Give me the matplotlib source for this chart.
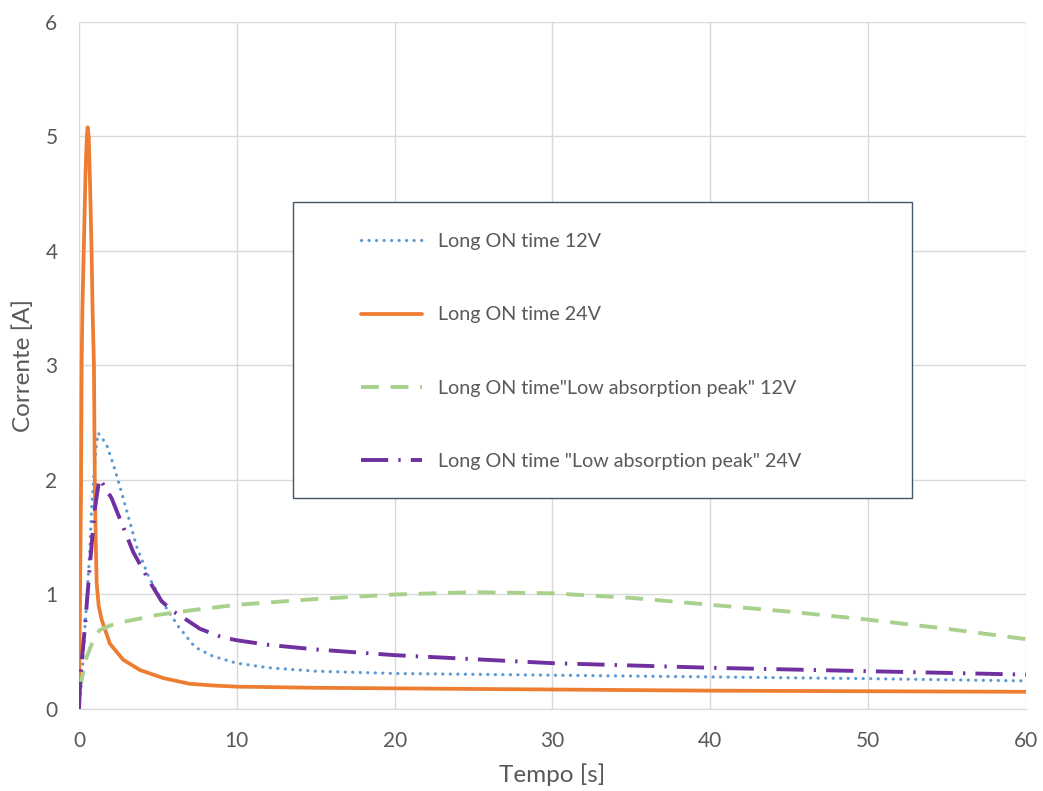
import matplotlib
matplotlib.use("Agg")
import matplotlib.pyplot as plt
from matplotlib.patches import Rectangle

plt.rcParams['font.family'] = ['Lato', 'DejaVu Sans']

# ---- data ----
t_12 = [0, 0.17, 0.3, 0.49, 0.7, 0.8, 0.95, 1.1, 1.22, 1.75, 2.28, 2.7, 3.13, 3.65, 4.4, 5.35,
        6.3, 7.35, 8.5, 10, 12, 15, 20, 30, 40, 50, 60]
i_12 = [0, 0.25, 0.55, 0.93, 1.42, 1.75, 2.05, 2.3, 2.41, 2.31, 2.09, 1.89, 1.68, 1.42, 1.16,
        0.92, 0.72, 0.54, 0.46, 0.4, 0.36, 0.33, 0.31, 0.295, 0.28, 0.265, 0.245]

t_24 = [0, 0.07, 0.13, 0.17, 0.22, 0.32, 0.42, 0.5, 0.55, 0.62, 0.7, 0.8, 0.86, 0.95, 1.01,
        1.06, 1.12, 1.25, 1.44, 1.96, 2.8, 3.87, 5.34, 7.0, 8.5, 10, 15, 20, 30, 40, 50, 60]
i_24 = [0, 1.0, 1.9, 3.0, 3.5, 4.1, 4.7, 5.0, 5.08, 5.0, 4.6, 4.0, 3.5, 3.0, 1.9,
        1.5, 1.1, 0.9, 0.78, 0.57, 0.43, 0.34, 0.27, 0.22, 0.205, 0.195, 0.185, 0.18,
        0.17, 0.16, 0.155, 0.15]

t_lap12 = [0.05, 0.17, 0.4, 0.7, 1.0, 1.33, 2, 2.8, 4.9, 7.0, 10, 15, 20, 25, 30, 35, 40, 45,
           50, 55, 60]
i_lap12 = [0.18, 0.25, 0.42, 0.53, 0.63, 0.69, 0.73, 0.76, 0.82, 0.86, 0.91, 0.96, 1.0,
           1.02, 1.01, 0.97, 0.91, 0.85, 0.78, 0.70, 0.61]

t_lap24 = [0, 0.1, 0.38, 0.7, 1.0, 1.29, 1.5, 2.07, 2.8, 3.44, 4.4, 5.24, 6.0, 6.8, 7.67,
           9.0, 10, 12, 15, 20, 30, 40, 50, 60]
i_lap24 = [0, 0.3, 0.72, 1.27, 1.74, 2.01, 1.97, 1.84, 1.59, 1.37, 1.13, 0.94, 0.85, 0.78,
           0.70, 0.63, 0.60, 0.56, 0.52, 0.47, 0.40, 0.36, 0.33, 0.30]

labels = ['Long ON time 12V', 'Long ON time 24V',
          'Long ON time"Low absorption peak" 12V',
          'Long ON time "Low absorption peak" 24V']
x_ticks = [0, 10, 20, 30, 40, 50, 60]
y_ticks = [0, 1, 2, 3, 4, 5, 6]

# ---- figure ----
fig = plt.figure(figsize=(10.43, 7.91), dpi=100)
ax = fig.add_axes([0.0757, 0.1037, 0.908, 0.8685])

txt = '#595959'
grid = '#D9D9D9'

l1, = ax.plot(t_12, i_12, color='#5B9BD5', lw=2.3, linestyle=(0, (0.05, 2.3)),
              dash_capstyle='round', zorder=3)
l2, = ax.plot(t_24, i_24, color='#ED7D31', lw=2.7, solid_capstyle='round',
              solid_joinstyle='round', zorder=3)
l3, = ax.plot(t_lap12, i_lap12, color='#A9D18E', lw=2.8, linestyle=(0, (4.6, 3.0)), zorder=3)
l4, = ax.plot(t_lap24, i_lap24, color='#7030A0', lw=2.8, linestyle=(0, (7, 2.6, 0.6, 2.6)),
              zorder=3)

ax.set_xlim(0, 60)
ax.set_ylim(0, 6)
ax.set_xticks(x_ticks)
ax.set_yticks(y_ticks)
ax.grid(True, color=grid, lw=1)
ax.set_axisbelow(True)
for s in ['top', 'right', 'left']:
    ax.spines[s].set_visible(False)
ax.spines['bottom'].set_color(grid)
ax.tick_params(length=0, labelsize=15, labelcolor=txt)
ax.tick_params(axis='y', pad=15.5)
ax.tick_params(axis='x', pad=16)
ax.set_xlabel('Tempo [s]', fontsize=17.5, color=txt, labelpad=9)
ax.set_ylabel('Corrente [A]', fontsize=17.5, color=txt, labelpad=8)

# legend frame
ax.add_patch(Rectangle((0.226, 0.307), 0.654, 0.431, transform=ax.transAxes,
                       facecolor='white', edgecolor='#44546A', lw=1.0, zorder=4))
leg = ax.legend([l1, l2, l3, l4], labels, loc='upper left',
                bbox_to_anchor=(0.298, 0.6925), frameon=False, fontsize=14.2,
                labelcolor=txt, handlelength=3.1, handletextpad=0.8,
                labelspacing=2.85, borderpad=0, borderaxespad=0)
leg.set_zorder(5)

fig.savefig('out.png', dpi=100)
